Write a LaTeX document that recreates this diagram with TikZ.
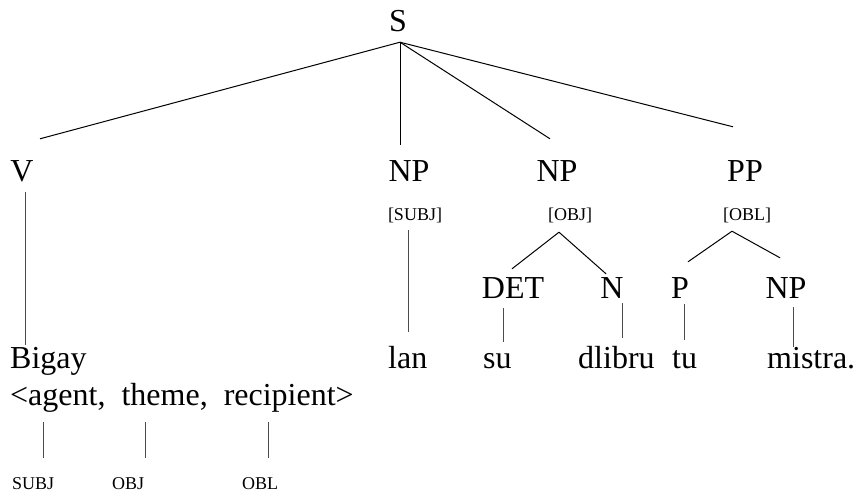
\documentclass[tikz,border=0pt]{standalone}
\usepackage{fontspec}
\setmainfont{Liberation Serif}
\begin{document}
\begin{tikzpicture}[x=1pt,y=-1pt,
  lab/.style={inner sep=0pt,anchor=base,font=\fontsize{32}{36}\selectfont,text height=21pt,text depth=0pt},
  word/.style={inner sep=0pt,anchor=base west,font=\fontsize{32}{36}\selectfont,text height=21pt,text depth=7pt},
  gf/.style={inner sep=0pt,font=\fontsize{18}{20}\selectfont,text height=13pt,text depth=4pt},
  branch/.style={line width=1pt,black},
  stem/.style={line width=1pt,black!70}]
\useasboundingbox (0,0) rectangle (858,492);

% category labels
\node[lab] (S) at (398,32) {S};
\node[lab] (V) at (22,181) {V};
\node[lab] (NPs) at (409,181) {NP};
\node[lab] (NPo) at (557,181) {NP};
\node[lab] (PP) at (745,181) {PP};
\node[lab] (DET) at (513,298) {DET};
\node[lab] (N) at (612,298) {N};
\node[lab] (P) at (680,298) {P};
\node[lab] (NPp) at (786,298) {NP};

% grammatical function annotations
\node[gf,anchor=base] (fS) at (415,220) {[SUBJ]};
\node[gf,anchor=base] (fO) at (570,220) {[OBJ]};
\node[gf,anchor=base] (fL) at (747,220) {[OBL]};

% words
\node[word] (Bigay) at (10,368) {Bigay};
\node[word] (lan) at (388,368) {lan};
\node[word] (su) at (483,368) {su};
\node[word] (dlibru) at (578,368) {dlibru};
\node[word] (tu) at (672,368) {tu};
\node[word] (mistra) at (767,368) {mistra.};
\node[word] (args) at (10,405) {\textless agent,\ \ theme,\ \ recipient\textgreater};

% argument-to-function labels
\node[gf,anchor=base west] (aS) at (12,489) {SUBJ};
\node[gf,anchor=base west] (aO) at (112,489) {OBJ};
\node[gf,anchor=base west] (aL) at (242,489) {OBL};

% branches from S
\draw[branch] ([shift={(2,10)}]S.south) -- ([shift={(18,-21)}]V.north);
\draw[branch] ([shift={(2,10)}]S.south) -- ([shift={(-9,-15)}]NPs.north);
\draw[branch] ([shift={(2,10)}]S.south) -- ([shift={(-7,-21)}]NPo.north);
\draw[branch] ([shift={(2,10)}]S.south) -- ([shift={(-12,-33)}]PP.north);

% object NP
\draw[branch] ([shift={(-11,8)}]fO.south) -- ([shift={(-1,-8)}]DET.north);
\draw[branch] ([shift={(-11,8)}]fO.south) -- ([shift={(-6,-3)}]N.north);

% oblique PP
\draw[branch] ([shift={(-15,7)}]fL.south) -- ([shift={(8,-15)}]P.north);
\draw[branch] ([shift={(-15,7)}]fL.south) -- ([shift={(-6,-19)}]NPp.north);

% lexical stems
\draw[stem] ([shift={(3,11)}]V.south) -- ([shift={(15,-2)}]Bigay.north west);
\draw[stem] ([shift={(-7,6)}]fS.south) -- ([shift={(20,-15)}]lan.north west);
\draw[stem] ([shift={(-10,10)}]DET.south) -- ([shift={(20,-5)}]su.north west);
\draw[stem] ([shift={(10,5)}]N.south) -- ([shift={(44,-9)}]dlibru.north west);
\draw[stem] ([shift={(4,6)}]P.south) -- ([shift={(12,-7)}]tu.north west);
\draw[stem] ([shift={(7,9)}]NPp.south) -- ([shift={(26,0)}]mistra.north west);

% argument structure links
\draw[stem] ([shift={(33,10)}]args.south west) -- ([shift={(31,-18)}]aS.north west);
\draw[stem] ([shift={(135,10)}]args.south west) -- ([shift={(33,-18)}]aO.north west);
\draw[stem] ([shift={(258,10)}]args.south west) -- ([shift={(26,-18)}]aL.north west);
\end{tikzpicture}
\end{document}
